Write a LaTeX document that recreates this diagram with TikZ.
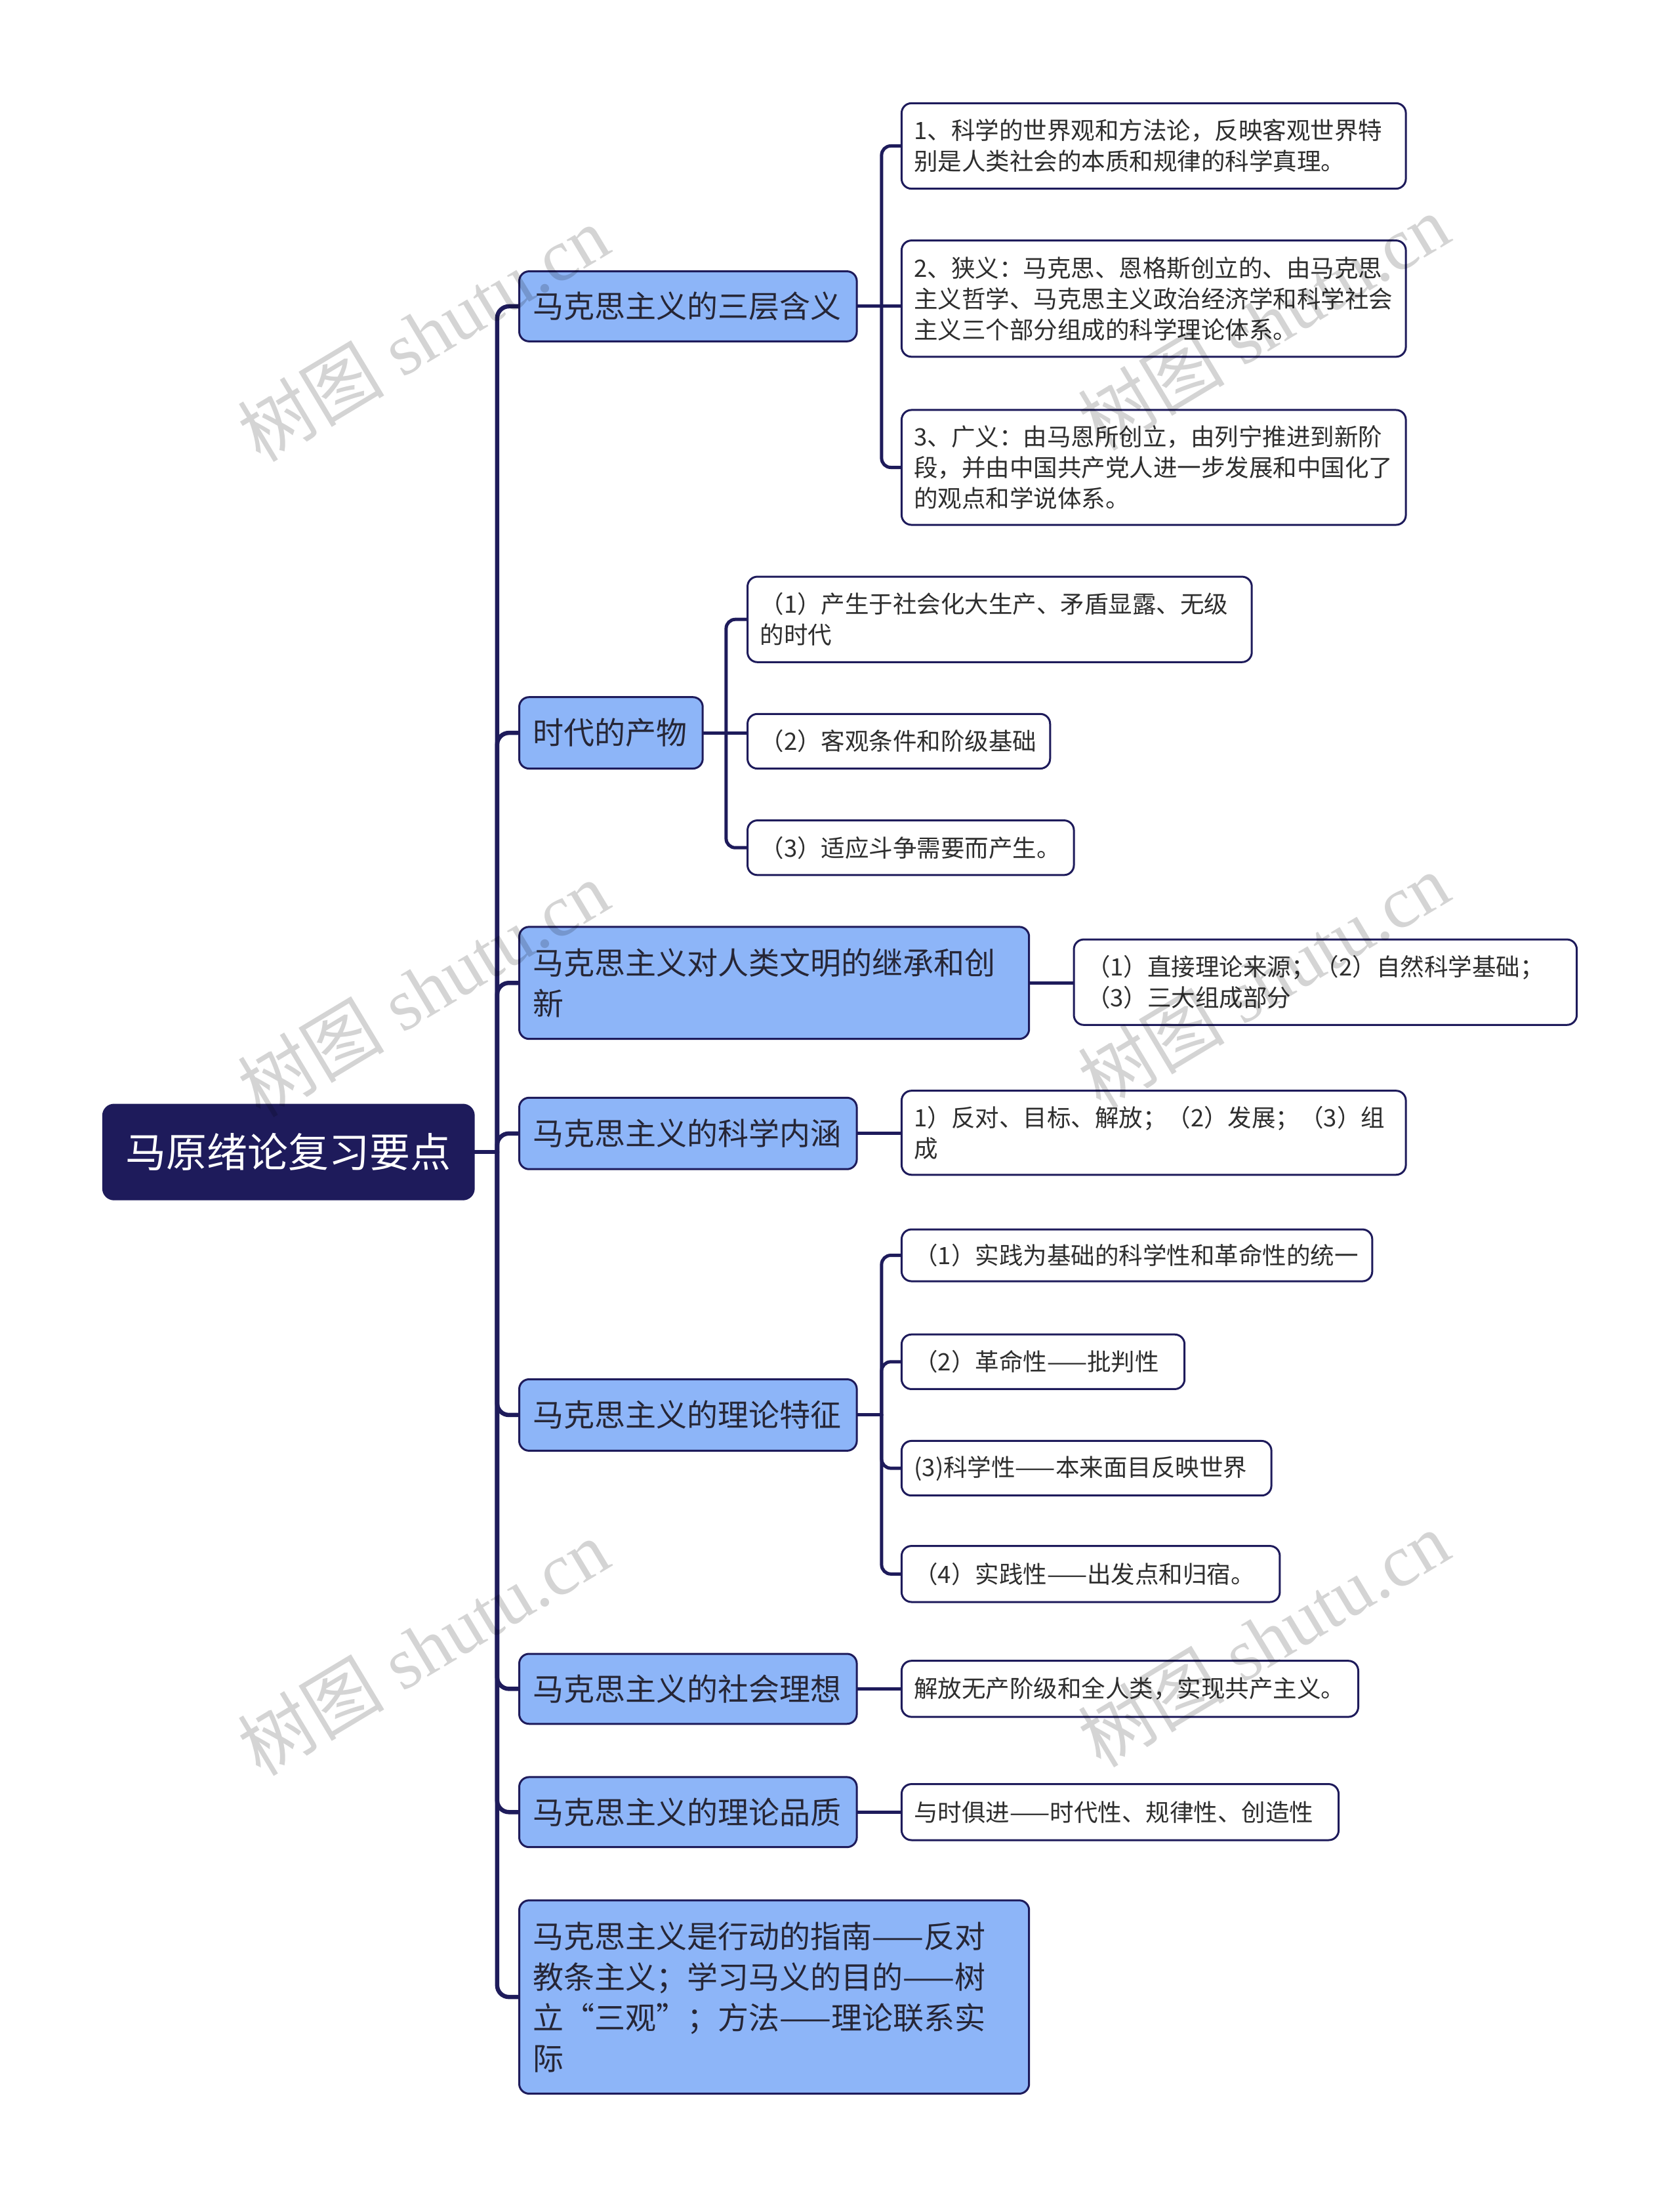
\documentclass[tikz,border=0pt]{standalone}
\usepackage{fontspec}
\newfontfamily\cjk{Noto Sans CJK SC}
\newfontfamily\wmserif{Liberation Serif}
\definecolor{mnavy}{HTML}{1E1B5B}
\definecolor{lblue}{HTML}{8DB5F8}
\definecolor{ltext}{HTML}{262636}
\definecolor{stext}{HTML}{2E2E2E}
\pgfdeclarelayer{paper}
\pgfdeclarelayer{bg}
\pgfsetlayers{paper,bg,main}
\tikzset{
 rootbox/.style={draw=mnavy, line width=2pt, fill=mnavy, rounded corners=17pt, text=white, font=\cjk\fontsize{62}{75}\selectfont, align=center},
 lvlone/.style={draw=mnavy, line width=3pt, fill=lblue, rounded corners=15pt, text=ltext, font=\cjk\fontsize{47}{62}\selectfont, align=left},
 lvltwo/.style={draw=mnavy, line width=3pt, fill=white, rounded corners=15pt, text=stext, font=\cjk\fontsize{36.5}{47}\selectfont, align=left},
 mainlink/.style={draw=mnavy, line width=6.5pt, rounded corners=18pt, line cap=round},
 sublink/.style={draw=mnavy, line width=5pt, rounded corners=14pt, line cap=round},
 wm/.style={font=\wmserif\fontsize{112}{112}\selectfont, text=black, text opacity=0.17, rotate=31, inner sep=0pt},
}
% name, style, x1, y1, x2, y2, pad, text
\newcommand\BoxNode[8]{%
  \node[#2, anchor=north west, inner xsep=#7pt, inner ysep=0pt,
        minimum height={(#6-#4)*2.1351pt},
        text width={(#5-#3)*2.1351pt-2*#7pt}] (#1) at (#3,#4) {#8};}
\begin{document}
\begin{tikzpicture}[x=2.1351pt, y=-2.1351pt]
\useasboundingbox (0,0) rectangle (1199,1568.5);
\begin{pgfonlayer}{paper}
\fill[white] (0,0) rectangle (1199,1568.5);
\end{pgfonlayer}

% root
\BoxNode{root}{rootbox}{73}{788}{338}{856}{16}{马原绪论复习要点}

% level one
\BoxNode{n1}{lvlone}{370}{193}{611}{243}{21}{马克思主义的三层含义}
\BoxNode{n2}{lvlone}{370}{497}{501}{548}{21}{时代的产物}
\BoxNode{n3}{lvlone}{370}{661}{734}{741}{21}{马克思主义对人类文明的继承和创\\新}
\BoxNode{n4}{lvlone}{370}{783}{611}{834}{21}{马克思主义的科学内涵}
\BoxNode{n5}{lvlone}{370}{984}{611}{1035}{21}{马克思主义的理论特征}
\BoxNode{n6}{lvlone}{370}{1180}{611}{1230}{21}{马克思主义的社会理想}
\BoxNode{n7}{lvlone}{370}{1268}{611}{1318}{21}{马克思主义的理论品质}
\BoxNode{n8}{lvlone}{370}{1356}{734}{1494}{21}{马克思主义是行动的指南——反对\\教条主义；学习马义的目的——树\\立“三观”；方法——理论联系实\\际}

% level two
\BoxNode{g1a}{lvltwo}{643}{73}{1003}{134}{19}{1、科学的世界观和方法论，反映客观世界特\\别是人类社会的本质和规律的科学真理。}
\BoxNode{g1b}{lvltwo}{643}{171}{1003}{254}{19}{2、狭义：马克思、恩格斯创立的、由马克思\\主义哲学、马克思主义政治经济学和科学社会\\主义三个部分组成的科学理论体系。}
\BoxNode{g1c}{lvltwo}{643}{292}{1003}{374}{19}{3、广义：由马恩所创立，由列宁推进到新阶\\段，并由中国共产党人进一步发展和中国化了\\的观点和学说体系。}

\BoxNode{g2a}{lvltwo}{533}{411}{893}{472}{19}{（1）产生于社会化大生产、矛盾显露、无级\\的时代}
\BoxNode{g2b}{lvltwo}{533}{509}{749}{548}{19}{（2）客观条件和阶级基础}
\BoxNode{g2c}{lvltwo}{533}{585}{766}{624}{19}{（3）适应斗争需要而产生。}

\BoxNode{g3}{lvltwo}{766}{670}{1125}{731}{19}{（1）直接理论来源；（2）自然科学基础；\\（3）三大组成部分}
\BoxNode{g4}{lvltwo}{643}{778}{1003}{838}{19}{1）反对、目标、解放；（2）发展；（3）组\\成}

\BoxNode{g5a}{lvltwo}{643}{877}{979}{914}{19}{（1）实践为基础的科学性和革命性的统一}
\BoxNode{g5b}{lvltwo}{643}{952}{845}{991}{19}{（2）革命性——批判性}
\BoxNode{g5c}{lvltwo}{643}{1028}{907}{1067}{19}{(3)科学性——本来面目反映世界}
\BoxNode{g5d}{lvltwo}{643}{1103}{913}{1143}{19}{（4）实践性——出发点和归宿。}

\BoxNode{g6}{lvltwo}{643}{1185}{969}{1225}{19}{解放无产阶级和全人类，实现共产主义。}
\BoxNode{g7}{lvltwo}{643}{1273}{955}{1313}{19}{与时俱进——时代性、规律性、创造性}

% connectors
\begin{pgfonlayer}{bg}
\path (root.east) ++(16,0) coordinate (spine);
\draw[mainlink] (root.east) -- (spine);
\foreach \n in {n1,n2,n3,n4,n5,n6,n7,n8}
  \draw[mainlink] (spine) |- (\n.west);

\path (n1.east) ++(17,0) coordinate (j1);
\draw[sublink] (n1.east) -- (j1);
\draw[sublink] (j1) |- (g1a.west);
\draw[sublink] (j1) |- (g1c.west);
\draw[sublink] (n1.east) -- (n1.east -| g1b.west);

\path (n2.east) ++(16,0) coordinate (j2);
\draw[sublink] (n2.east) -- (j2);
\draw[sublink] (j2) |- (g2a.west);
\draw[sublink] (j2) |- (g2c.west);
\draw[sublink] (n2.east) -- (n2.east -| g2b.west);

\draw[sublink] (n3.east) -- (n3.east -| g3.west);
\draw[sublink] (n4.east) -- (n4.east -| g4.west);

\path (n5.east) ++(17,0) coordinate (j5);
\draw[sublink] (n5.east) -- (j5);
\foreach \c in {g5a,g5b,g5c,g5d}
  \draw[sublink] (j5) |- (\c.west);

\draw[sublink] (n6.east) -- (n6.east -| g6.west);
\draw[sublink] (n7.east) -- (n7.east -| g7.west);
\end{pgfonlayer}

% watermarks
\foreach \cx/\cy [count=\i] in {302/238, 902/230, 302/706, 902/700, 302/1176, 902/1170}
  \node[wm] (wm\i) at (\cx,\cy) {{\cjk 树图} shutu.cn};
\end{tikzpicture}
\end{document}
